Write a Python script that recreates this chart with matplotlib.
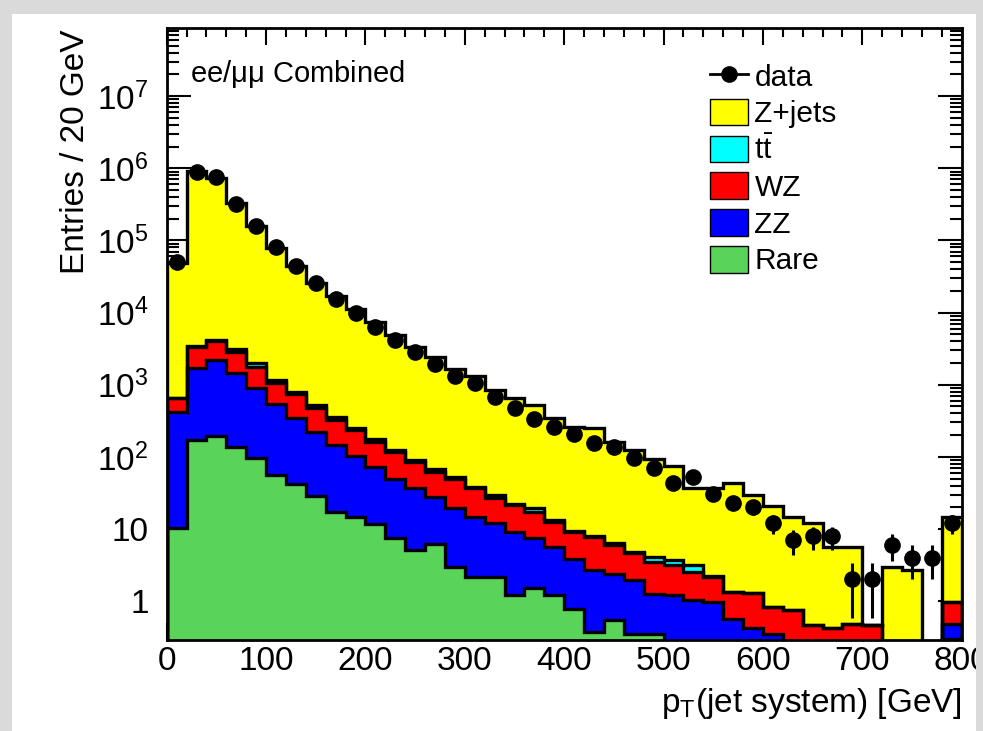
import numpy as np
import matplotlib
matplotlib.use('Agg')
import matplotlib.pyplot as plt
from matplotlib.patches import Rectangle, Patch
from matplotlib.lines import Line2D
from matplotlib.ticker import FixedLocator, FixedFormatter, MultipleLocator

plt.rcParams['font.family'] = ['Liberation Sans', 'DejaVu Sans']
plt.rcParams['mathtext.fontset'] = 'custom'
plt.rcParams['mathtext.rm'] = 'Liberation Sans'
plt.rcParams['mathtext.it'] = 'Liberation Sans:italic'
plt.rcParams['mathtext.bf'] = 'Liberation Sans:bold'

# 20 GeV bins from 0 to 800 GeV
edges = np.arange(0, 820, 20)

data = [51000, 900000, 750000, 320000, 159000, 80500, 44300, 26000, 15500, 9800,
        6400, 4200, 2870, 1920, 1320, 1050, 668, 471, 333, 257,
        207, 157, 135, 97, 71, 44, 53, 31, 23, 20,
        12, 7, 8, 8, 2, 2, 6, 4, 4, 12]

rare = [10.2, 171, 194, 138, 95, 56, 42, 28.6, 17.3, 14.5,
        11.7, 7.4, 5.1, 6.3, 3.0, 2.17, 2.17, 1.21, 1.5, 1.21,
        0.79, 0.375, 0.545, 0.356, 0.356, 0, 0, 0, 0, 0,
        0, 0, 0, 0, 0, 0, 0, 0, 0, 0.3]

zz = [408, 1535, 2006, 1330, 805, 484, 300, 194, 129, 88.5,
      61.3, 42.6, 31.5, 21.7, 16.5, 12.6, 9.8, 7.9, 5.9, 4.5,
      3.1, 2.3, 1.85, 1.6, 0.92, 1.21, 1.03, 0.98, 0.575, 0.42,
      0.356, 0, 0, 0, 0, 0, 0, 0, 0, 0.19]

wz = [236, 1629, 1875, 1402, 877, 526, 401, 248, 178, 132,
      89, 68, 48.9, 34, 30.5, 21.8, 14.6, 12.3, 9.9, 6.9,
      5.2, 5.1, 3.6, 2.65, 2.22, 1.95, 1.52, 1.19, 0.775, 0.86,
      0.474, 0.75, 0.465, 0.42, 0.49, 0.465, 0, 0, 0, 0.49]

ttbar = [6, 60, 120, 256, 241, 96, 57, 52, 29, 18,
         13, 6, 4.5, 5, 3, 1.9, 2.9, 1.1, 2.0, 0.7,
         0.4, 0.3, 0.5, 0.2, 0.6, 0.54, 0.6, 0.08, 0, 0,
         0, 0, 0, 0, 0, 0, 0, 0, 0, 0]

zjets = [47600, 927000, 726000, 325000, 158000, 76800, 43500, 25000, 16650, 10850,
         7325, 4776, 3280, 2383, 1597, 1281, 814, 625, 504, 329,
         252, 242, 155.5, 119, 88, 71.3, 33.4, 34.3, 41.6, 28.2,
         20.0, 14.05, 11.7, 5.3, 5.2, 0, 3.0, 2.7, 0, 13.8]

# stack order, bottom to top
processes = [
    ('Rare', rare, '#59d459'),
    ('ZZ', zz, '#0000ff'),
    ('WZ', wz, '#ff0000'),
    (r'$\mathrm{t\bar{t}}$', ttbar, '#00ffff'),
    ('Z+jets', zjets, '#ffff00'),
]

ymin, ymax = 0.29, 8.7e7
floor = 1e-3

fig = plt.figure(figsize=(9.83, 7.31), dpi=100)
ax = fig.add_axes([0.1696, 0.1245, 0.8087, 0.8368])
ax.set_yscale('log')

cum = np.cumsum([np.array(p[1], dtype=float) for p in processes], axis=0)
for k in range(len(processes) - 1, -1, -1):
    vals = np.maximum(cum[k], floor)
    ax.stairs(vals, edges, baseline=floor, fill=True,
              facecolor=processes[k][2], edgecolor='none', zorder=2)
    ax.stairs(vals, edges, baseline=floor, color='black', lw=2.4, zorder=3)

centers = 0.5 * (edges[:-1] + edges[1:])
d = np.array(data, dtype=float)
ax.errorbar(centers, d, yerr=np.sqrt(d), fmt='o', color='black', ms=11,
            elinewidth=2.2, capsize=0, zorder=5)

ax.set_xlim(0, 800)
ax.set_ylim(ymin, ymax)

# ROOT-like axes: ticks inside on every side
ax.xaxis.set_major_locator(MultipleLocator(100))
ax.xaxis.set_minor_locator(MultipleLocator(20))
major_y = [10.0 ** e for e in range(0, 8)]
minor_y = [m * 10.0 ** e for e in range(-1, 8) for m in range(2, 10)]
ax.yaxis.set_major_locator(FixedLocator(major_y))
ax.yaxis.set_major_formatter(FixedFormatter(
    ['1', '10'] + [r'$10^{%d}$' % e for e in range(2, 8)]))
ax.yaxis.set_minor_locator(FixedLocator(minor_y))
ax.yaxis.set_minor_formatter(FixedFormatter([''] * len(minor_y)))

ax.tick_params(which='both', direction='in', top=True, right=True,
               colors='black', width=1.5)
ax.tick_params(axis='x', which='major', length=12, labelsize=24, pad=4)
ax.tick_params(axis='x', which='minor', length=6.5)
ax.tick_params(axis='y', which='major', length=17, labelsize=24, pad=13)
ax.tick_params(axis='y', which='minor', length=8.6)
for sp in ax.spines.values():
    sp.set_linewidth(2)
    sp.set_zorder(6)

ax.text(0.029, 0.912, r'ee/$\mathrm{\mu\mu}$ Combined', transform=ax.transAxes,
        fontsize=21, va='baseline', ha='left')

handles = [Line2D([], [], color='black', marker='o', ms=11, lw=2)]
labels = ['data']
for name, _, color in reversed(processes):
    handles.append(Patch(facecolor=color, edgecolor='black', lw=1))
    labels.append(name)
ax.legend(handles, labels, loc='upper left', bbox_to_anchor=(0.683, 0.945),
          frameon=False, fontsize=21.5, borderaxespad=0, borderpad=0,
          handlelength=1.3, handleheight=1.0, handletextpad=0.2,
          labelspacing=0.24)

fig.text(962 / 983, 1 - 712 / 731, r'p$_{\mathrm{T}}$(jet system) [GeV]',
         fontsize=24, ha='right', va='baseline')
fig.text(75 / 983, 1 - 30 / 731, 'Entries / 20 GeV', fontsize=24,
         rotation=90, ha='center', va='top')

# grey page border around the canvas
gray = '#dadada'
fig.add_artist(Rectangle((0, 0), 12 / 983, 1, transform=fig.transFigure,
                         facecolor=gray, edgecolor='none', zorder=20))
fig.add_artist(Rectangle((0, 1 - 14 / 731), 1, 14 / 731, transform=fig.transFigure,
                         facecolor=gray, edgecolor='none', zorder=20))
fig.add_artist(Rectangle((976 / 983, 0), 7 / 983, 1, transform=fig.transFigure,
                         facecolor=gray, edgecolor='none', zorder=20))

fig.savefig('out.png', dpi=100)
